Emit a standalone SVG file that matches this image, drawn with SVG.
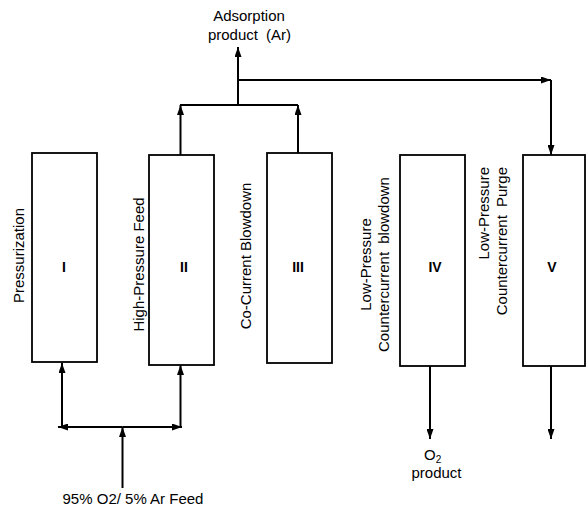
<svg xmlns="http://www.w3.org/2000/svg" width="586" height="508" viewBox="0 0 586 508">
<style>
.box{fill:#fff;stroke:#000;stroke-width:1.8}
.c{fill:none;stroke:#000;stroke-width:2}
.t{font-family:"Liberation Sans",Arial,sans-serif;font-size:15px;fill:#000}
.n{font-family:"Liberation Sans",Arial,sans-serif;font-size:14px;font-weight:bold;fill:#000;text-anchor:middle}
</style>
<defs>
<marker id="ah" markerUnits="userSpaceOnUse" markerWidth="10" markerHeight="7" refX="10" refY="3.5" orient="auto">
<path d="M0,0 L10,3.5 L0,7 z" fill="#000"/>
</marker>
</defs>
<rect width="586" height="508" fill="#fff"/>
<g id="connectors">
<path class="c" d="M238,105 V47" marker-end="url(#ah)"/>
<path class="c" d="M238,80 H551" marker-end="url(#ah)"/>
<path class="c" d="M551,80 V155" marker-end="url(#ah)"/>
<path class="c" d="M180,105 H298"/>
<path class="c" d="M180.5,155 V105" marker-end="url(#ah)"/>
<path class="c" d="M298,153 V105" marker-end="url(#ah)"/>
<path class="c" d="M62,427 V363" marker-end="url(#ah)"/>
<path class="c" d="M180.5,427 V365" marker-end="url(#ah)"/>
<path class="c" d="M122.5,427 H58" marker-end="url(#ah)"/>
<path class="c" d="M122.5,427 H182" marker-end="url(#ah)"/>
<path class="c" d="M122.5,488 V427" marker-end="url(#ah)"/>
<path class="c" d="M430,366 V439" marker-end="url(#ah)"/>
<path class="c" d="M551,366 V439" marker-end="url(#ah)"/>
</g>
<g id="bed1">
<rect class="box" x="32" y="153" width="65" height="209"/>
<text class="n" x="64" y="272">I</text>
<text class="t" text-anchor="middle" transform="translate(24,255.5) rotate(-90)">Pressurization</text>
</g>
<g id="bed2">
<rect class="box" x="149" y="155" width="65" height="210"/>
<text class="n" x="184" y="272">II</text>
<text class="t" text-anchor="middle" transform="translate(144,264.5) rotate(-90)">High-Pressure Feed</text>
</g>
<g id="bed3">
<rect class="box" x="267" y="153" width="65" height="210"/>
<text class="n" x="298" y="272">III</text>
<text class="t" text-anchor="middle" transform="translate(250.5,256) rotate(-90)">Co-Current Blowdown</text>
</g>
<g id="bed4">
<rect class="box" x="400" y="155" width="65" height="211"/>
<text class="n" x="435" y="272">IV</text>
<text class="t" text-anchor="middle" transform="translate(371,264.5) rotate(-90)">Low-Pressure</text>
<text class="t" text-anchor="middle" word-spacing="4" transform="translate(389,264.5) rotate(-90)">Countercurrent blowdown</text>
</g>
<g id="bed5">
<rect class="box" x="523" y="155" width="62" height="211"/>
<text class="n" x="552" y="272">V</text>
<text class="t" text-anchor="end" transform="translate(489,167) rotate(-90)">Low-Pressure</text>
<text class="t" text-anchor="end" word-spacing="4" transform="translate(507,167) rotate(-90)">Countercurrent Purge</text>
</g>
<g id="adsorption-product">
<text class="t" text-anchor="middle" x="249" y="21">Adsorption</text>
<text class="t" text-anchor="middle" word-spacing="4" x="249.5" y="39.5">product (Ar)</text>
</g>
<g id="feed">
<text class="t" text-anchor="middle" x="133" y="504">95% O2/ 5% Ar Feed</text>
</g>
<g id="o2-product">
<text class="t" x="424" y="460">O<tspan font-size="10" dy="3">2</tspan></text>
<text class="t" text-anchor="middle" x="436.5" y="478">product</text>
</g>
</svg>
